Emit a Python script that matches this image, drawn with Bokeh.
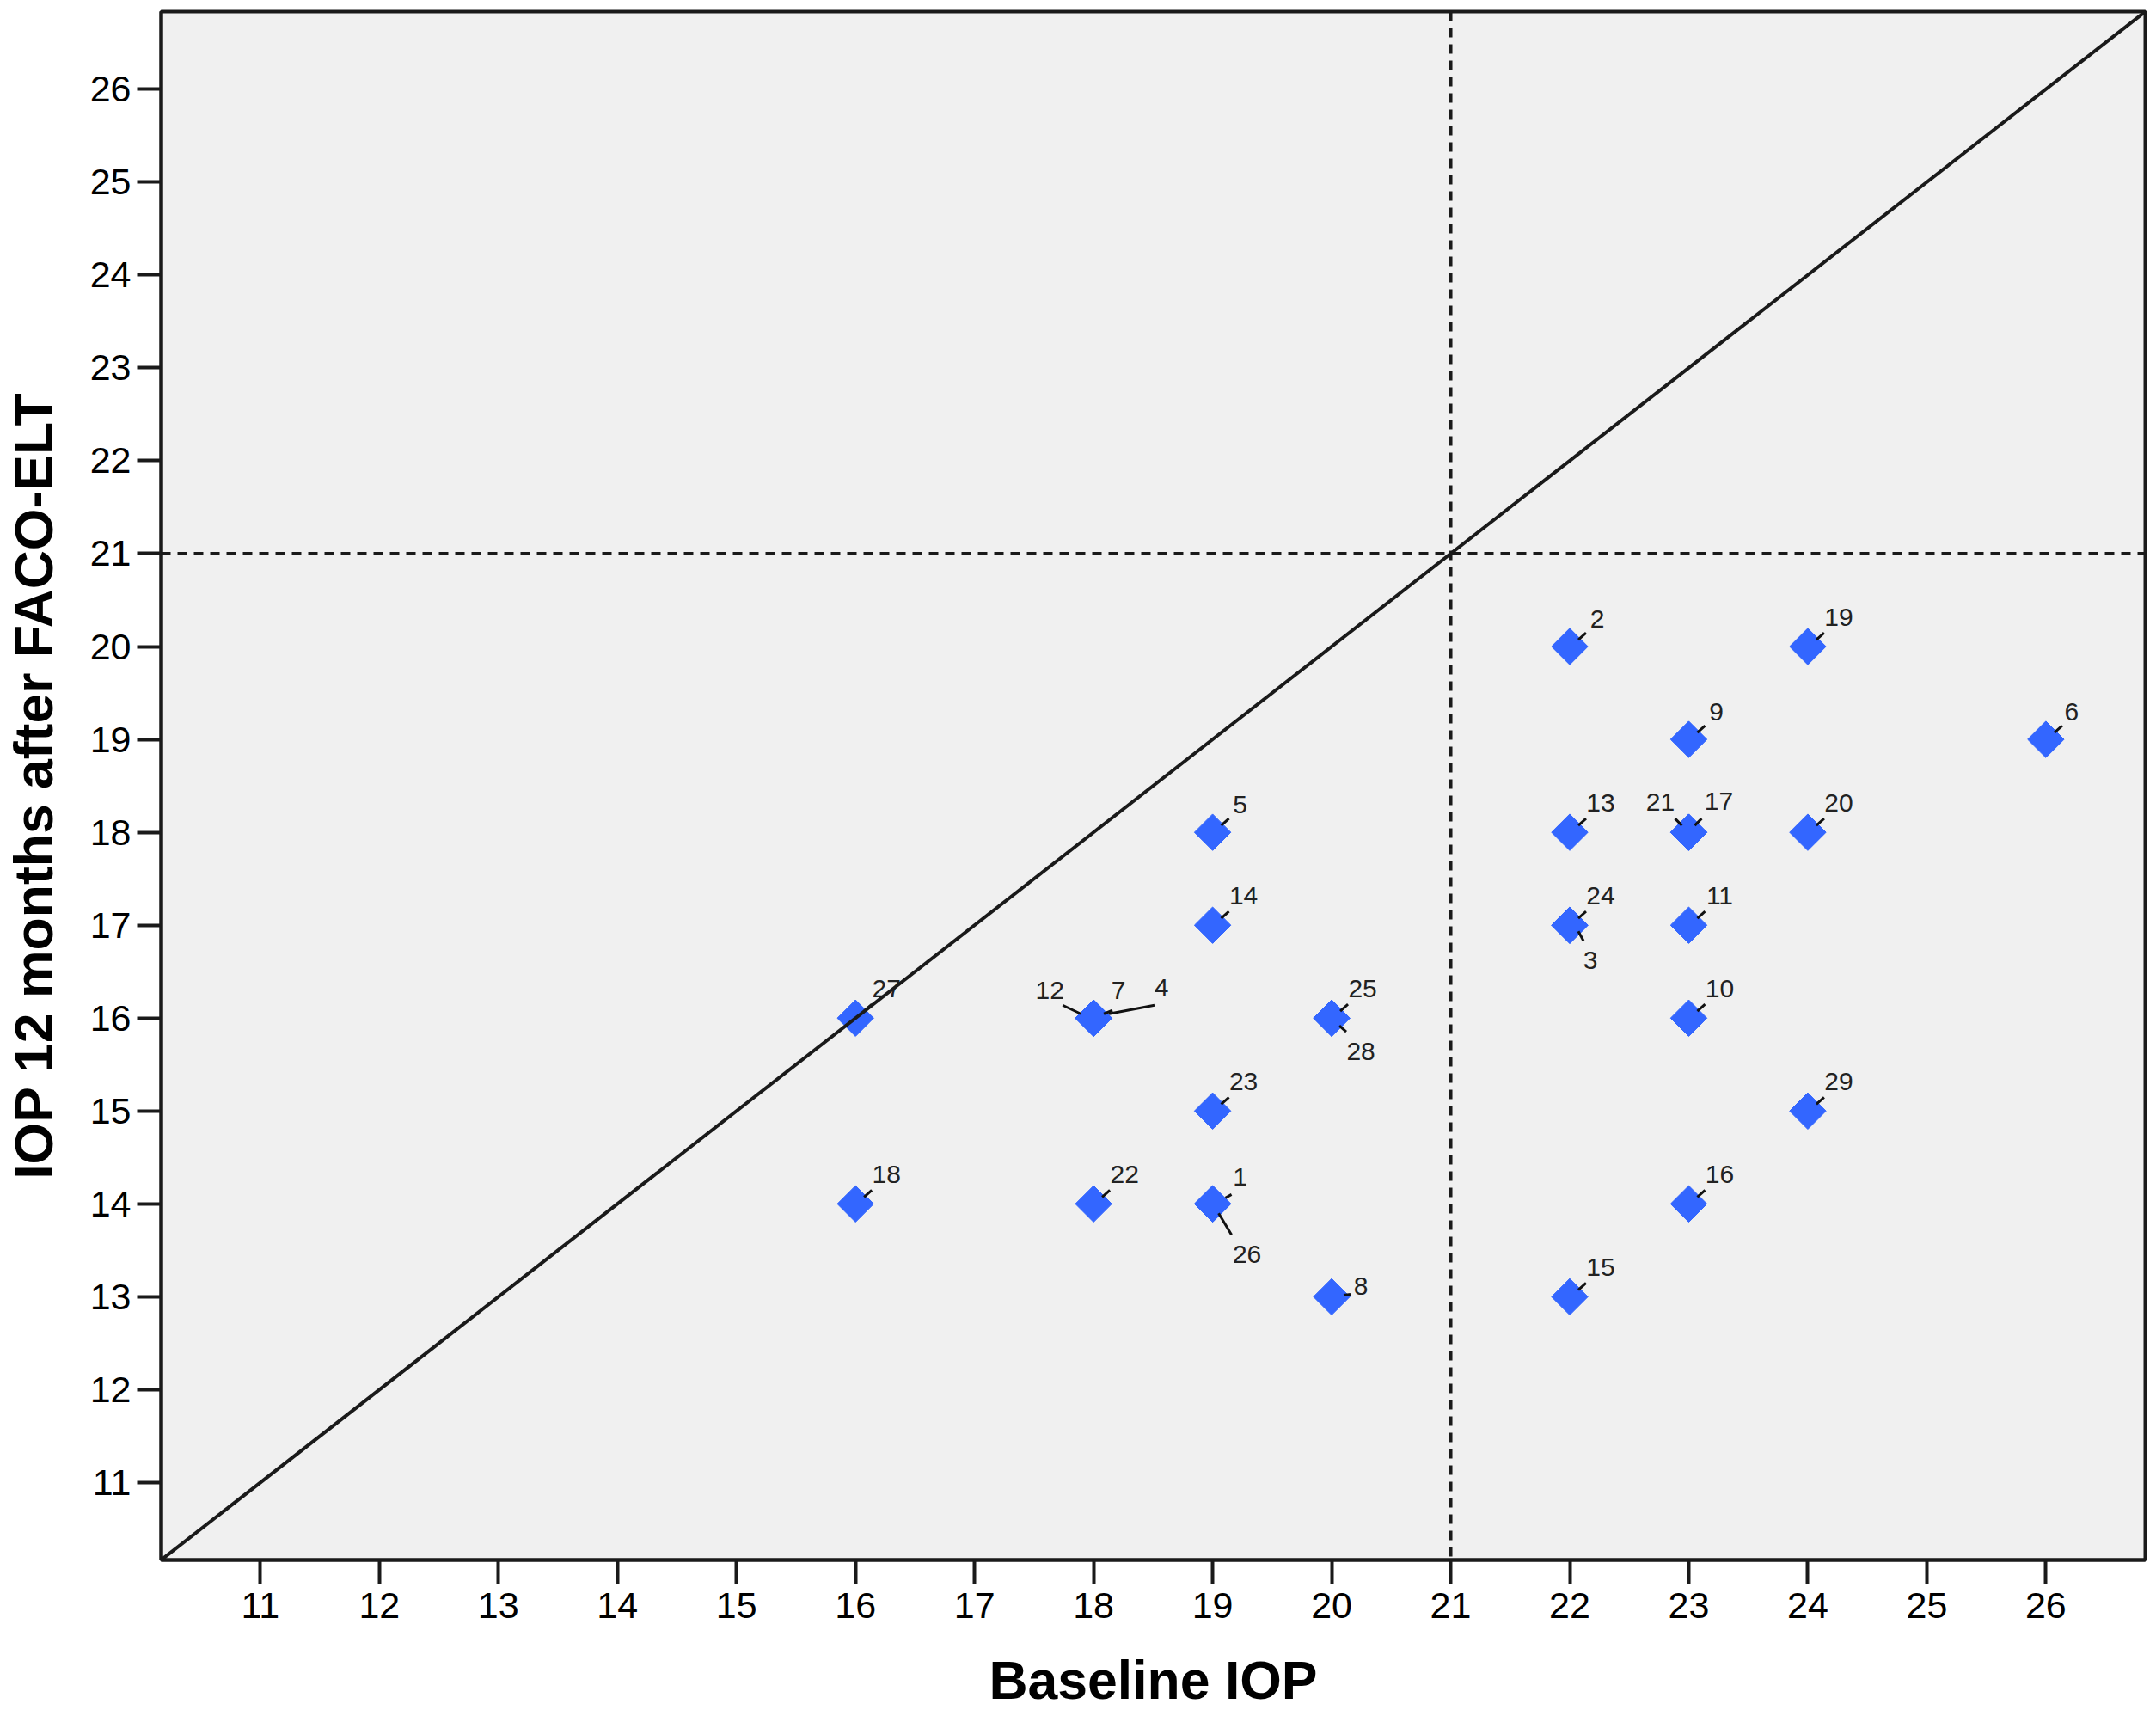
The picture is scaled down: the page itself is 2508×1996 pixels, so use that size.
import math
from bokeh.plotting import figure
from bokeh.models import Range1d, FixedTicker, Span, Slope, ColumnDataSource
from bokeh.core.properties import value
from bokeh.embed import file_html
from bokeh.resources import INLINE

# ---- data ----
case_id = list(range(1, 30))
baseline_iop = [19, 22, 22, 18, 19, 26, 18, 20, 23, 23, 23, 18, 22, 19, 22,
                23, 23, 16, 24, 24, 23, 18, 19, 22, 20, 19, 16, 20, 24]
iop_12m = [14, 20, 17, 16, 18, 19, 16, 13, 19, 16, 17, 16, 18, 17, 13,
           14, 18, 14, 20, 18, 18, 14, 15, 17, 16, 14, 16, 16, 15]
x_ticks = list(range(11, 27))
y_ticks = list(range(11, 27))
x_label = "Baseline IOP"
y_label = "IOP 12 months after FACO-ELT"
cutoff = 21

# ---- layout / style ----
X0, X1 = 10.167, 26.835
Y0, Y1 = 10.167, 26.835
LEFT, TOP, RIGHT, BOTTOM = 183, 13, 11, 179
FW, FH = 2312, 1801
W, H = LEFT + FW + RIGHT, TOP + FH + BOTTOM
FONT = "Liberation Sans"

# label placement (screen px, y downward): label centre offset, leader start, leader end
default_two = ((36, -34), (10, -8), (19, -16))
default_one = ((32, -32), (10, -8), (19, -16))
special = {
    1: ((32, -31), (15, -7), (22, -11)),
    3: ((24, 41), (10, 7), (16, 18)),
    4: ((79, -35), (18, -5), (71, -15)),
    6: ((30, -32), (10, -8), (19, -16)),
    7: ((29, -32), (12, -5), (22, -9)),
    8: ((34, -12), (14, -2), (22, -3)),
    12: ((-51, -32), (-15, -5), (-36, -15)),
    17: ((35, -36), (7, -8), (15, -16)),
    21: ((-33, -35), (-8, -8), (-16, -16)),
    26: ((40, 59), (7, 11), (22, 36)),
    28: ((34, 39), (9, 9), (17, 16)),
}

pxx = FW / (X1 - X0)
pxy = FH / (Y1 - Y0)

lab_dx, lab_dy, sx0, sy0, sx1, sy1 = [], [], [], [], [], []
for cid, bx, fy in zip(case_id, baseline_iop, iop_12m):
    place = special.get(cid, default_two if cid >= 10 else default_one)
    (ldx, ldy), (a0, b0), (a1, b1) = place
    lab_dx.append(ldx)
    lab_dy.append(ldy)
    sx0.append(bx + a0 / pxx)
    sy0.append(fy - b0 / pxy)
    sx1.append(bx + a1 / pxx)
    sy1.append(fy - b1 / pxy)

src = ColumnDataSource(dict(x=baseline_iop, y=iop_12m,
                            txt=[str(c) for c in case_id],
                            dx=lab_dx, dy=lab_dy))
seg = ColumnDataSource(dict(x0=sx0, y0=sy0, x1=sx1, y1=sy1))

p = figure(width=W, height=H, x_range=Range1d(X0, X1), y_range=Range1d(Y0, Y1),
           output_backend="svg", toolbar_location=None,
           min_border_left=LEFT, min_border_right=RIGHT,
           min_border_top=TOP, min_border_bottom=BOTTOM)
p.background_fill_color = "#f0f0f0"
p.border_fill_color = "white"
p.outline_line_color = "#1a1a1a"
p.outline_line_width = 4
p.xgrid.visible = False
p.ygrid.visible = False

for ax, ticks, lab in ((p.xaxis[0], x_ticks, x_label), (p.yaxis[0], y_ticks, y_label)):
    ax.ticker = FixedTicker(ticks=ticks)
    ax.axis_label = lab
    ax.axis_label_text_font = FONT
    ax.axis_label_text_font_style = "bold"
    ax.axis_label_text_font_size = "62.5px"
    ax.axis_label_text_color = "black"
    ax.major_label_text_font = FONT
    ax.major_label_text_font_size = "43px"
    ax.major_label_text_color = "black"
    ax.axis_line_width = 4
    ax.axis_line_color = "#1a1a1a"
    ax.major_tick_line_width = 4
    ax.major_tick_line_color = "#1a1a1a"
    ax.major_tick_in = 0
    ax.major_tick_out = 28
    ax.minor_tick_line_color = None

p.xaxis[0].major_label_standoff = 10
p.xaxis[0].axis_label_standoff = 34
p.yaxis[0].major_label_standoff = 7
p.yaxis[0].axis_label_standoff = 28

p.add_layout(Slope(gradient=1, y_intercept=0, line_color="#1a1a1a", line_width=4))
p.add_layout(Span(location=cutoff, dimension="height", line_color="#1a1a1a",
                  line_width=4, line_dash="11 8"))
p.add_layout(Span(location=cutoff, dimension="width", line_color="#1a1a1a",
                  line_width=4, line_dash="11 8"))

p.scatter("x", "y", source=src, marker="square", angle=math.pi / 4, size=30,
          fill_color="#3366ff", line_color="#3366ff", line_width=1)
p.segment("x0", "y0", "x1", "y1", source=seg, line_color="#111111", line_width=3)
p.text("x", "y", text="txt", source=src, x_offset="dx", y_offset="dy",
       text_font=value(FONT), text_font_size="30px", text_color="#222222",
       text_align="center", text_baseline="middle")

open("out.html", "w").write(file_html(p, INLINE))
